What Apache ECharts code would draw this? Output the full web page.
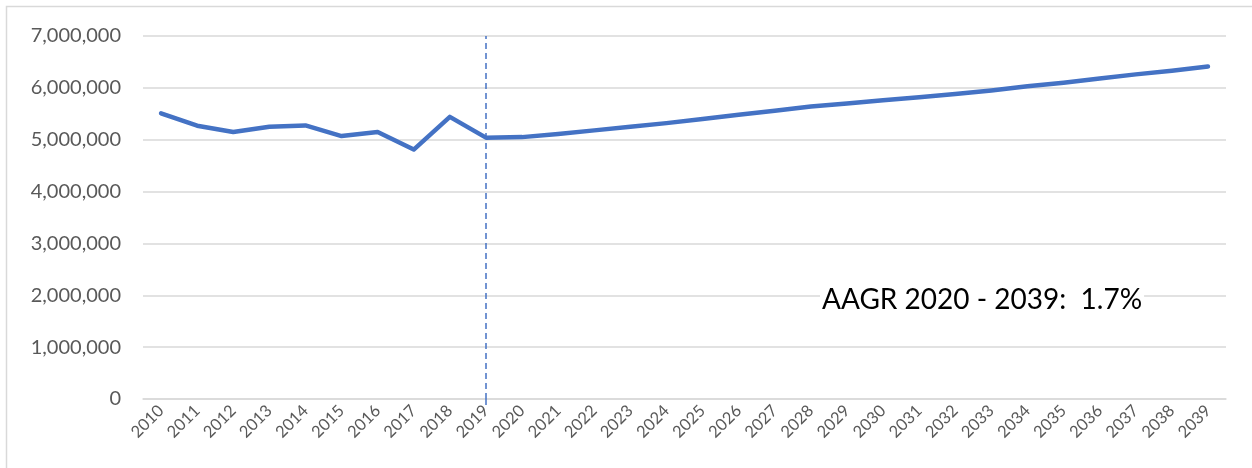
<!DOCTYPE html>
<html>
<head>
<meta charset="utf-8">
<script src="https://cdn.jsdelivr.net/npm/echarts@6/dist/echarts.min.js"></script>
<style>
  html, body { margin: 0; padding: 0; background: #ffffff; }
  #chart { width: 1252px; height: 468px; }
</style>
</head>
<body>
<div id="chart"></div>
<script>
// Years on the category axis
const years = ['2010','2011','2012','2013','2014','2015','2016','2017','2018','2019',
  '2020','2021','2022','2023','2024','2025','2026','2027','2028','2029',
  '2030','2031','2032','2033','2034','2035','2036','2037','2038','2039'];

// Annual totals: history through 2019, forecast afterwards
const totals = [5510000, 5270000, 5150000, 5250000, 5275000, 5070000, 5150000, 4810000, 5440000, 5040000,
  5050000, 5110000, 5180000, 5250000, 5320000, 5400000, 5480000, 5560000, 5640000, 5700000,
  5760000, 5820000, 5880000, 5950000, 6030000, 6100000, 6180000, 6260000, 6330000, 6410000];

// Year where history ends and the forecast begins
const splitYear = '2019';
const yTicks = { min: 0, max: 7000000, interval: 1000000 };
const growthNote = 'AAGR 2020 - 2039:  1.7%';

const chart = echarts.init(document.getElementById('chart'), null, { renderer: 'canvas' });

const splitLineStyle = { color: '#4472C4', type: [6, 4], width: 1.5 };

chart.setOption({
  animation: false,
  backgroundColor: '#ffffff',
  grid: { left: 143, right: 26, top: 36, bottom: 69, containLabel: false },
  xAxis: {
    type: 'category',
    data: years,
    boundaryGap: true,
    axisLine: { show: true, lineStyle: { color: '#D9D9D9', width: 1.5 } },
    // only the split year gets a tick, continuing the dashed divider below the axis
    axisTick: {
      show: true,
      alignWithLabel: true,
      length: 7,
      interval: (i, v) => v === splitYear,
      lineStyle: splitLineStyle
    },
    axisLabel: {
      rotate: 45,
      interval: 0,
      margin: 9,
      color: '#595959',
      fontFamily: 'Lato',
      fontSize: 16.5
    },
    splitLine: { show: false }
  },
  yAxis: {
    type: 'value',
    min: yTicks.min,
    max: yTicks.max,
    interval: yTicks.interval,
    axisLine: { show: false },
    axisTick: { show: false },
    axisLabel: {
      margin: 22,
      color: '#595959',
      fontFamily: 'Lato',
      fontSize: 20,
      formatter: v => v.toLocaleString('en-US')
    },
    splitLine: { lineStyle: { color: '#D9D9D9', width: 1.5 } }
  },
  series: [{
    type: 'line',
    data: totals,
    symbol: 'none',
    lineStyle: { color: '#4472C4', width: 4.5, cap: 'round', join: 'round' },
    markLine: {
      silent: true,
      symbol: 'none',
      label: { show: false },
      lineStyle: splitLineStyle,
      data: [{ xAxis: splitYear }]
    }
  }],
  graphic: [
    {
      type: 'rect',
      shape: { x: 6.5, y: 6.5, width: 1300, height: 520 },
      style: { fill: null, stroke: '#D9D9D9', lineWidth: 1.5 },
      silent: true
    },
    {
      type: 'text',
      left: 820,
      top: 284,
      z: 10,
      style: {
        text: growthNote,
        fill: '#000000',
        fontFamily: 'Lato',
        fontSize: 28,
        backgroundColor: '#ffffff',
        padding: [2, 2, 2, 2]
      }
    }
  ]
});
</script>
</body>
</html>
